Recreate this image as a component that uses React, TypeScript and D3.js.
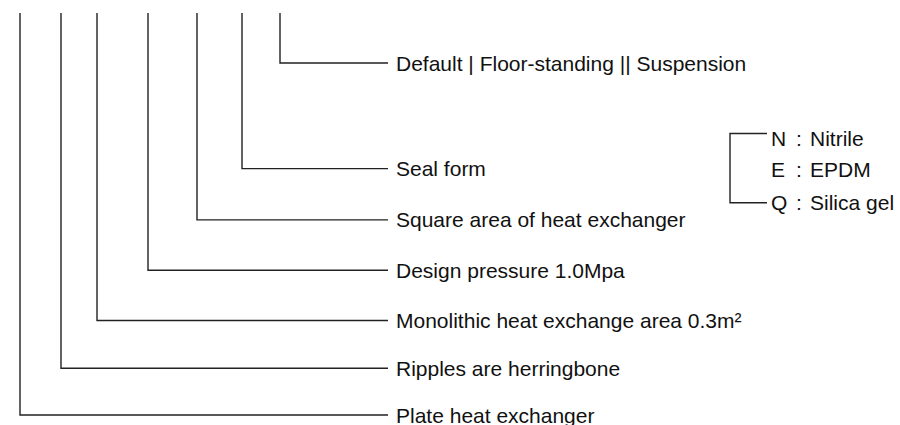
import React, { useEffect, useRef } from "react";
import * as d3 from "d3";

// Code designation diagram: each label hangs off its own vertical branch
const labels = [
  "Default | Floor-standing || Suspension",
  "Seal form",
  "Square area of heat exchanger",
  "Design pressure 1.0Mpa",
  "Monolithic heat exchange area 0.3m²",
  "Ripples are herringbone",
  "Plate heat exchanger",
];
// row index of each label (top to bottom)
const labelRows = [0, 2.1, 3.12, 4.12, 5.12, 6.07, 7];
// branch position (units along the header) of each label's vertical line
const branchPos = [280, 242, 197, 148, 97, 61, 20];

// seal options hanging off the bracket
const sealCodes = ["N", "E", "Q"];
const sealNames = ["Nitrile", "EPDM", "Silica gel"];
const sealRows = [1.5, 2.12, 2.78];

const W = 900;
const H = 425;

const App = () => {
  const svgRef = useRef<SVGSVGElement | null>(null);

  useEffect(() => {
    if (!svgRef.current) return;
    const svg = d3.select(svgRef.current);
    svg.selectAll("*").remove();

    const y = d3.scaleLinear().domain([0, 7]).range([63, 415]);
    const x = d3.scaleLinear().domain([0, 900]).range([0, 900]);

    const topY = 13;
    const lineEnd = 388;
    const textX = 396;
    const stroke = "#222";

    // branches: vertical from top, then horizontal to the label
    labels.forEach((label, i) => {
      const bx = x(branchPos[i]);
      const ly = y(labelRows[i]);
      svg.append("path")
        .attr("d", `M${bx},${topY}V${ly}H${lineEnd}`)
        .attr("fill", "none")
        .attr("stroke", stroke)
        .attr("stroke-width", 1.4);
      svg.append("text")
        .attr("x", textX)
        .attr("y", ly + 7.5)
        .attr("font-family", "'Liberation Sans', Arial, sans-serif")
        .attr("font-size", 21)
        .attr("fill", "#111")
        .text(label);
    });

    // seal bracket
    const bx = 730;
    const bEnd = 767;
    const yTop = y(sealRows[0]) - 5;
    const yBot = y(sealRows[sealRows.length - 1]);
    svg.append("path")
      .attr("d", `M${bEnd},${yTop}H${bx}V${yBot}H${bEnd}`)
      .attr("fill", "none")
      .attr("stroke", stroke)
      .attr("stroke-width", 1.4);

    sealCodes.forEach((code, i) => {
      const ty = y(sealRows[i]) + 7.5;
      const g = svg.append("g")
        .attr("font-family", "'Liberation Sans', Arial, sans-serif")
        .attr("font-size", 21)
        .attr("fill", "#111");
      g.append("text").attr("x", 771).attr("y", ty).text(code);
      g.append("text").attr("x", 796).attr("y", ty).text(":");
      g.append("text").attr("x", 810).attr("y", ty).text(sealNames[i]);
    });
  }, []);

  return (
    <svg
      ref={svgRef}
      width={W}
      height={H}
      style={{ position: "absolute", left: 0, top: 0, background: "#fff" }}
    />
  );
};

export default App;
